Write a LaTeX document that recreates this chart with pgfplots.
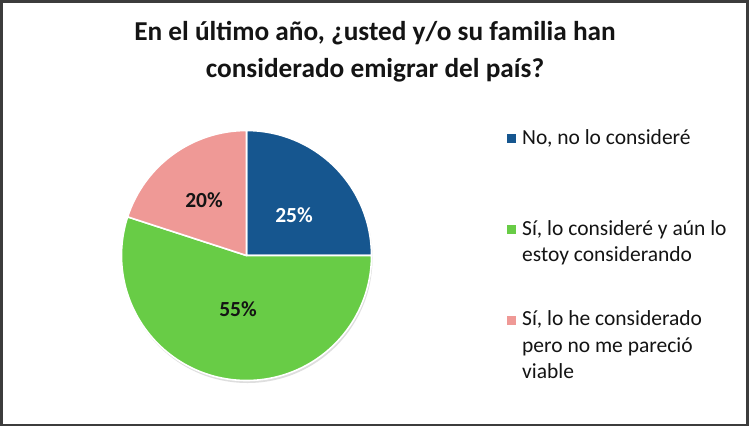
\documentclass[border=0pt]{standalone}
\usepackage{pgfplots}
\pgfplotsset{compat=1.18}
\usepackage{pgfplotstable}
\usepackage{fontspec}
\setmainfont{Carlito}

\definecolor{cblue}{RGB}{22,86,143}
\definecolor{cgreen}{RGB}{104,204,70}
\definecolor{cpink}{RGB}{239,153,150}
\definecolor{frame}{RGB}{60,60,60}
\definecolor{txt}{RGB}{20,20,20}

% share (%), colour, label position (px), label colour
\pgfplotstableread[col sep=comma]{
pct,col,lx,ly,lc
25,cblue,294,215,white
55,cgreen,238,309,txt
20,cpink,204,200,txt
}\piedata

\begin{document}
\begin{tikzpicture}
\begin{axis}[
  scale only axis, width=750bp, height=427bp,
  xmin=0, xmax=750, ymin=0, ymax=427, y dir=reverse,
  hide axis, clip=false]
% frame and background
\fill[white] (axis cs:0,0) rectangle (axis cs:750,427);
\draw[frame, line width=2.5bp] (axis cs:1.3,1.3) rectangle (axis cs:747.7,425);
% title
\node[anchor=base, font=\fontsize{27.3bp}{31bp}\selectfont\bfseries, text=txt]
  at (axis cs:375,41) {En el último año, ¿usted y/o su familia han};
\node[anchor=base, font=\fontsize{27.3bp}{31bp}\selectfont\bfseries, text=txt]
  at (axis cs:375,77) {considerado emigrar del país?};
% shadow
\fill[black!13] (axis cs:247.5,258) circle[radius=125bp];
% pie
\pgfplotstablegetrowsof{\piedata}
\pgfmathtruncatemacro\nrows{\pgfplotsretval-1}
\gdef\angstart{90}
\pgfplotsforeachungrouped \i in {0,...,\nrows}{%
  \pgfplotstablegetelem{\i}{pct}\of\piedata \let\pct\pgfplotsretval
  \pgfplotstablegetelem{\i}{col}\of\piedata \let\col\pgfplotsretval
  \pgfmathsetmacro\angend{\angstart-3.6*\pct}%
  \edef\tmp{\noexpand\fill[\col, draw=white, line width=1.6bp, line join=round]
    (axis cs:246.5,255.5) -- ++(\angstart:125bp)
    arc[start angle=\angstart, end angle=\angend, radius=125bp] -- cycle;}%
  \tmp
  \xdef\angstart{\angend}%
}
\pgfplotsforeachungrouped \i in {0,...,\nrows}{%
  \pgfplotstablegetelem{\i}{pct}\of\piedata \let\pct\pgfplotsretval
  \pgfplotstablegetelem{\i}{lx}\of\piedata \let\lx\pgfplotsretval
  \pgfplotstablegetelem{\i}{ly}\of\piedata \let\ly\pgfplotsretval
  \pgfplotstablegetelem{\i}{lc}\of\piedata \let\lc\pgfplotsretval
  \edef\tmp{\noexpand\node[text=\lc, font=\noexpand\fontsize{21.5bp}{25bp}\noexpand\selectfont\noexpand\bfseries]
    at (axis cs:\lx,\ly) {\pct\noexpand\%};}%
  \tmp
}
% legend
\fill[cblue]  (axis cs:506.5,134) rectangle (axis cs:515.5,143);
\fill[cgreen] (axis cs:506.5,225) rectangle (axis cs:515.5,234);
\fill[cpink]  (axis cs:506.5,316) rectangle (axis cs:515.5,325);
\begin{scope}[every node/.style={anchor=base west, inner sep=0pt, text=txt,
    font=\fontsize{21.5bp}{25bp}\selectfont}]
\node at (axis cs:522,144) {No, no lo consideré};
\node at (axis cs:522,235) {Sí, lo consideré y aún lo};
\node at (axis cs:522,261) {estoy considerando};
\node at (axis cs:522,325) {Sí, lo he considerado};
\node at (axis cs:522,352) {pero no me pareció};
\node at (axis cs:522,378) {viable};
\end{scope}
\end{axis}
\end{tikzpicture}
\end{document}
